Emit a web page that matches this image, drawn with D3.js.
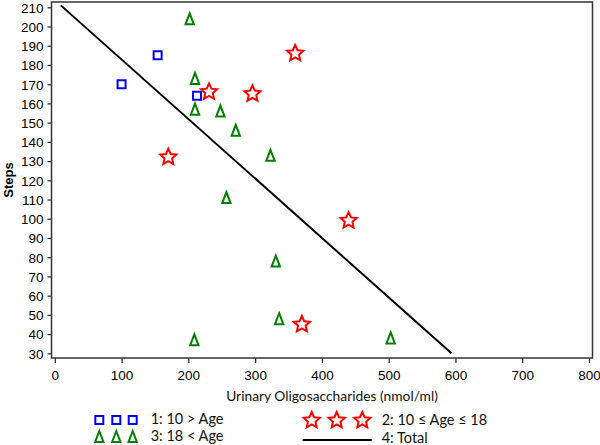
<!DOCTYPE html>
<html>
<head>
<meta charset="utf-8">
<script src="https://cdn.jsdelivr.net/npm/d3@7"></script>
<style>
  html, body { margin: 0; padding: 0; background: #fff; }
  svg { display: block; }
</style>
</head>
<body>
<svg id="chart" width="600" height="445"></svg>
<script>
// ---- data ----
const xTicks = [0, 100, 200, 300, 400, 500, 600, 700, 800];
const yTicks = [30, 40, 50, 60, 70, 80, 90, 100, 110, 120, 130, 140, 150, 160, 170, 180, 190, 200, 210];

const youngX = [100, 154, 213];          // 1: 10 > Age
const youngY = [170, 185, 164];

const teenX = [360, 231, 296, 170, 440, 370];   // 2: 10 ≤ Age ≤ 18
const teenY = [186, 166, 165, 132, 99, 45];

const adultX = [202, 210, 210, 248, 271, 323, 257, 331, 336, 209, 503]; // 3: 18 < Age
const adultY = [204, 173, 157, 156, 146, 133, 111, 78, 48, 37, 38];

const totalX = [9, 594];                 // 4: Total (fit line)
const totalY = [211, 30];

const legendLabels = ["1: 10 > Age", "2: 10 \u2264 Age \u2264 18", "3: 18 < Age", "4: Total"];
const xTitle = "Urinary Oligosaccharides (nmol/ml)";
const yTitle = "Steps";

// ---- layout ----
const svg = d3.select("#chart");
const frame = { left: 51.5, right: 592.5, top: 2, bottom: 358 };
const x = d3.scaleLinear().domain([0, 800]).range([54.8, 589]);
const y = d3.scaleLinear().domain([30, 210]).range([353.3, 7.3]);

const BLUE = "#0000ff", GREEN = "#008000", RED = "#ff0000";

// custom symbol types
const triType = {
  draw(ctx, size) {
    const h = Math.sqrt(size);
    const w = h * 0.76;
    ctx.moveTo(0, -h / 2);
    ctx.lineTo(w / 2, h / 2);
    ctx.lineTo(-w / 2, h / 2);
    ctx.closePath();
  }
};
const starType = {
  draw(ctx, size) {
    const R = Math.sqrt(size);
    const r = R * 0.47;
    for (let i = 0; i < 10; i++) {
      const a = -Math.PI / 2 + i * Math.PI / 5;
      const rad = i % 2 === 0 ? R : r;
      const px = rad * Math.cos(a), py = rad * Math.sin(a);
      if (i === 0) ctx.moveTo(px, py); else ctx.lineTo(px, py);
    }
    ctx.closePath();
  }
};
const squareSym = d3.symbol().type(d3.symbolSquare).size(64);
const triSym = d3.symbol().type(triType).size(121);
const starSym = d3.symbol().type(starType).size(72);

// axes
const xAxis = d3.axisBottom(x).tickValues(xTicks).tickSize(5).tickSizeOuter(0).tickPadding(7);
const yAxis = d3.axisLeft(y).tickValues(yTicks).tickSize(4).tickSizeOuter(0).tickPadding(4);

const gx = svg.append("g").attr("transform", `translate(0,${frame.bottom})`).call(xAxis);
const gy = svg.append("g").attr("transform", `translate(${frame.left},0)`).call(yAxis);
[gx, gy].forEach(g => {
  g.select(".domain").remove();
  g.selectAll(".tick line").attr("stroke", "#222").attr("stroke-width", 1.2);
  g.selectAll(".tick text")
    .attr("fill", "#000")
    .style("font-family", "'Liberation Sans', Arial, sans-serif")
    .style("font-size", "13.5px");
});
gy.selectAll(".tick text").attr("dy", "0.36em");

// frame
svg.append("rect")
  .attr("x", frame.left).attr("y", frame.top)
  .attr("width", frame.right - frame.left).attr("height", frame.bottom - frame.top)
  .attr("fill", "none").attr("stroke", "#333").attr("stroke-width", 1.5);

// titles
svg.append("text")
  .attr("transform", "translate(13,180) rotate(-90)")
  .attr("text-anchor", "middle")
  .style("font-family", "'Liberation Sans', Arial, sans-serif")
  .style("font-size", "13px").style("font-weight", "bold")
  .attr("fill", "#000")
  .text(yTitle);

svg.append("text")
  .attr("x", 332).attr("y", 401)
  .attr("text-anchor", "middle")
  .style("font-family", "Lato, 'Open Sans', sans-serif")
  .style("font-size", "13.8px")
  .attr("fill", "#111")
  .text(xTitle);

// fit line
const line = d3.line().x(d => x(d[0])).y(d => y(d[1]));
svg.append("path")
  .datum(d3.zip(totalX, totalY))
  .attr("d", line)
  .attr("fill", "none").attr("stroke", "#000").attr("stroke-width", 2);

// markers
function drawMarkers(xs, ys, sym, color) {
  svg.append("g").selectAll("path")
    .data(d3.zip(xs, ys))
    .join("path")
    .attr("transform", d => `translate(${x(d[0])},${y(d[1])})`)
    .attr("d", sym())
    .attr("fill", "#fff")
    .attr("stroke", color)
    .attr("stroke-width", 2);
}
drawMarkers(adultX, adultY, triSym, GREEN);
drawMarkers(youngX, youngY, squareSym, BLUE);
drawMarkers(teenX, teenY, starSym, RED);

// legend
const lg = svg.append("g");
const legFont = g => g.style("font-family", "Lato, 'Open Sans', sans-serif").style("font-size", "14.5px").attr("fill", "#111");

[99.3, 116.3, 132.7].forEach(cx => {
  lg.append("path").attr("transform", `translate(${cx},420)`).attr("d", squareSym())
    .attr("fill", "#fff").attr("stroke", BLUE).attr("stroke-width", 2);
  lg.append("path").attr("transform", `translate(${cx},436.5)`).attr("d", triSym())
    .attr("fill", "#fff").attr("stroke", GREEN).attr("stroke-width", 2);
});
[311.7, 336.7, 362.3].forEach(cx => {
  lg.append("path").attr("transform", `translate(${cx},420.5)`).attr("d", starSym())
    .attr("fill", "#fff").attr("stroke", RED).attr("stroke-width", 2);
});
lg.append("line").attr("x1", 302.7).attr("x2", 371.7).attr("y1", 440).attr("y2", 440)
  .attr("stroke", "#000").attr("stroke-width", 2);

lg.append("text").attr("x", 150.7).attr("y", 424).text(legendLabels[0]).call(legFont);
lg.append("text").attr("x", 150.7).attr("y", 440.5).text(legendLabels[2]).call(legFont);
lg.append("text").attr("x", 381.7).attr("y", 424.5).text(legendLabels[1]).call(legFont);
lg.append("text").attr("x", 381.7).attr("y", 443).text(legendLabels[3]).call(legFont);
</script>
</body>
</html>
